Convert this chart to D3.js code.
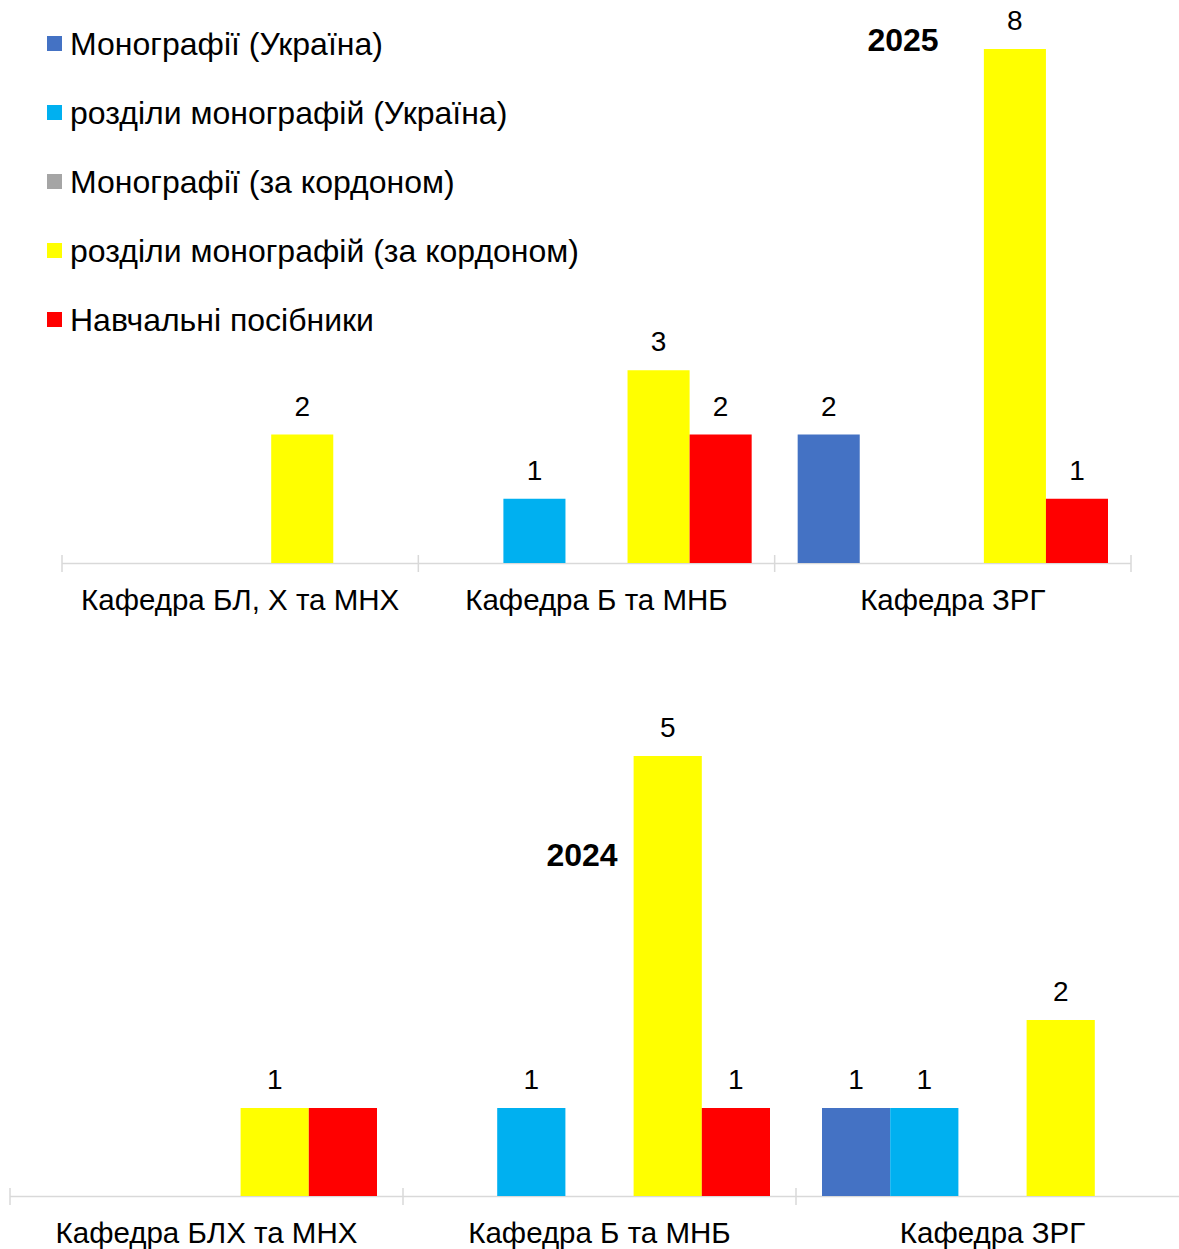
<!DOCTYPE html>
<html>
<head>
<meta charset="utf-8">
<script src="https://cdn.jsdelivr.net/npm/d3@7"></script>
<style>
    body { margin: 0; background: #fff; }
    svg { display: block; font-family: "Liberation Sans", Arial, sans-serif; }
</style>
</head>
<body>
<div id="chart"></div>
<script>
var series = ["Монографії (Україна)", "розділи монографій (Україна)", "Монографії (за кордоном)", "розділи монографій (за кордоном)", "Навчальні посібники"],
    colors = ["#4472C4", "#00B0F0", "#A5A5A5", "#FFFF00", "#FF0000"];

// 2025
var cats2025 = ["Кафедра БЛ, Х та МНХ", "Кафедра Б та МНБ", "Кафедра ЗРГ"],
    vals2025 = [
        [0, 0, 0, 2, 0],
        [0, 1, 0, 3, 2],
        [2, 0, 0, 8, 1]
    ];

// 2024
var cats2024 = ["Кафедра БЛХ та МНХ", "Кафедра Б та МНБ", "Кафедра ЗРГ"],
    vals2024 = [
        [0, 0, 0, 1, 1],
        [0, 1, 0, 5, 1],
        [1, 1, 0, 2, 0]
    ],
    // the red bar of the first group carries no label in the original
    labels2024 = [
        [null, null, null, 1, null],
        [null, 1, null, 5, 1],
        [1, 1, null, 2, null]
    ];

var W = 1179, H = 1249;
var svg = d3.select("#chart").append("svg").attr("width", W).attr("height", H);

function drawChart(opt) {
    var g = svg.append("g");
    var x0 = d3.scaleBand().domain(opt.cats).range([opt.left, opt.right]);
    var bw = x0.bandwidth();
    var x1 = d3.scaleBand().domain(d3.range(series.length)).range([opt.pad, bw - opt.pad]);
    var y = d3.scaleLinear().domain([0, opt.max]).range([opt.base, opt.top]);
    var labels = opt.labels || opt.vals;

    // axis line + ticks
    g.append("line")
        .attr("x1", opt.left).attr("x2", opt.lineEnd)
        .attr("y1", opt.base + 0.5).attr("y2", opt.base + 0.5)
        .attr("stroke", "#D9D9D9").attr("stroke-width", 1.5);
    var tickPos = opt.cats.map(function (c) { return x0(c); }).concat([opt.right]);
    g.selectAll("line.tick").data(tickPos).enter().append("line")
        .attr("class", "tick")
        .attr("x1", function (d) { return d; }).attr("x2", function (d) { return d; })
        .attr("y1", opt.base - 8).attr("y2", opt.base + 9)
        .attr("stroke", "#D9D9D9").attr("stroke-width", 1.5);

    var groups = g.selectAll("g.grp").data(opt.vals).enter().append("g")
        .attr("class", "grp")
        .attr("transform", function (d, i) { return "translate(" + x0(opt.cats[i]) + ",0)"; });

    var items = groups.selectAll("g.bar")
        .data(function (d, i) {
            return d.map(function (v, k) { return { v: v, k: k, lab: labels[i][k] }; })
                .filter(function (o) { return o.v > 0; });
        })
        .enter().append("g").attr("class", "bar");

    items.append("rect")
        .attr("x", function (d) { return x1(d.k); })
        .attr("width", x1.bandwidth())
        .attr("y", function (d) { return y(d.v); })
        .attr("height", function (d) { return y(0) - y(d.v); })
        .attr("fill", function (d) { return colors[d.k]; });

    items.filter(function (d) { return d.lab != null; }).append("text")
        .attr("x", function (d) { return x1(d.k) + x1.bandwidth() / 2; })
        .attr("y", function (d) { return y(d.v) - 19; })
        .attr("text-anchor", "middle")
        .attr("font-size", 28)
        .attr("fill", "#000")
        .text(function (d) { return d.lab; });

    g.selectAll("text.cat").data(opt.cats).enter().append("text")
        .attr("class", "cat")
        .attr("x", function (d) { return x0(d) + bw / 2; })
        .attr("y", opt.base + 47)
        .attr("text-anchor", "middle")
        .attr("font-size", 29.5)
        .attr("fill", "#000")
        .text(function (d) { return d; });

    g.append("text")
        .attr("x", opt.titleX).attr("y", opt.titleY)
        .attr("text-anchor", "middle")
        .attr("font-size", 32).attr("font-weight", "bold")
        .text(opt.title);
}

drawChart({ cats: cats2025, vals: vals2025, left: 62, right: 1131, lineEnd: 1131, pad: 23,
    base: 563, top: 49, max: 8, title: "2025", titleX: 903, titleY: 51 });
drawChart({ cats: cats2024, vals: vals2024, labels: labels2024, left: 10, right: 1189, lineEnd: 1179, pad: 26,
    base: 1196, top: 756, max: 5, title: "2024", titleX: 582, titleY: 866 });

// legend
var leg = svg.append("g").attr("transform", "translate(47,44)");
var li = leg.selectAll("g").data(series).enter().append("g")
    .attr("transform", function (d, i) { return "translate(0," + i * 69 + ")"; });
li.append("rect").attr("x", 0).attr("y", -8).attr("width", 15).attr("height", 15)
    .attr("fill", function (d, i) { return colors[i]; });
li.append("text").attr("x", 23).attr("y", 11)
    .attr("font-size", 32).attr("fill", "#000")
    .text(function (d) { return d; });
</script>
</body>
</html>
